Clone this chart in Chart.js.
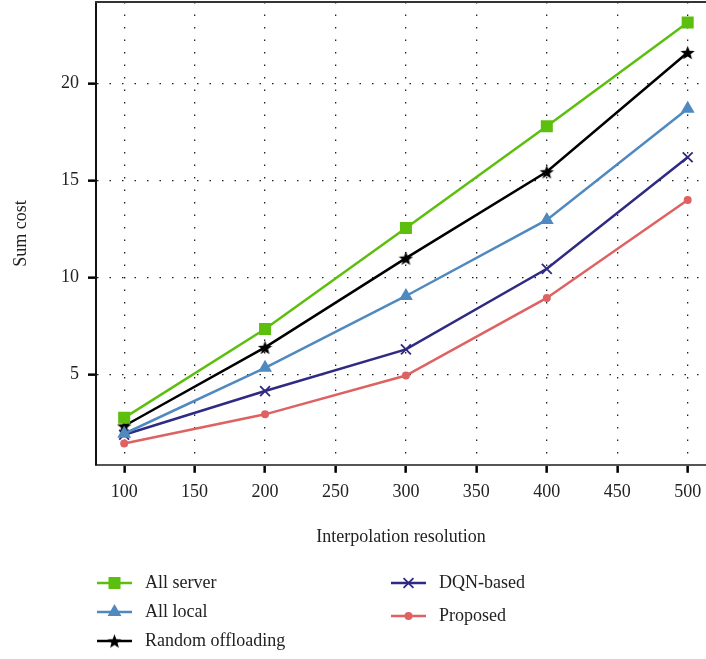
<!DOCTYPE html>
<html>
<head>
<meta charset="utf-8">
<script src="https://cdn.jsdelivr.net/npm/chart.js@4"></script>
<style>
  html, body { margin: 0; padding: 0; background: #fff; }
  #wrap { width: 706px; height: 659px; position: relative; }
</style>
</head>
<body>
<div id="wrap"><canvas id="costChart"></canvas></div>
<script>
// x axis values
const resolutions = [100, 200, 300, 400, 500];
const xTicks = [100, 150, 200, 250, 300, 350, 400, 450, 500];
const yTicks = [5, 10, 15, 20];

// series values
const allServer = [2.77, 7.35, 12.55, 17.8, 23.14];
const allLocal = [1.95, 5.35, 9.05, 12.97, 18.7];
const randomOffloading = [2.35, 6.4, 11.0, 15.45, 21.6];
const dqnBased = [1.9, 4.15, 6.3, 10.45, 16.2];
const proposed = [1.45, 2.95, 4.95, 8.95, 14.0];

const FONT = "'Liberation Serif', 'DejaVu Serif', serif";

// filled five-point star used as marker for random offloading
function makeStar(size, color) {
    const c = document.createElement('canvas');
    c.width = size; c.height = size;
    const g = c.getContext('2d');
    const cx = size / 2, cy = size / 2 + 0.8;
    const outer = size / 2, inner = outer * 0.42;
    g.beginPath();
    for (let i = 0; i < 10; i++) {
        const r = i % 2 === 0 ? outer : inner;
        const a = -Math.PI / 2 + i * Math.PI / 5;
        g.lineTo(cx + r * Math.cos(a), cy + r * Math.sin(a));
    }
    g.closePath();
    g.fillStyle = color;
    g.fill();
    return c;
}
const starImg = makeStar(15, '#000');

const pts = (arr) => arr.map((v, i) => ({ x: resolutions[i], y: v }));

const datasets = [
    { label: 'All server', data: pts(allServer), borderColor: '#5cbf0e', backgroundColor: '#5cbf0e',
      pointStyle: 'rect', pointRadius: 8.5, borderWidth: 2.5, pointBorderWidth: 0 },
    { label: 'All local', data: pts(allLocal), borderColor: '#4f89c0', backgroundColor: '#4f89c0',
      pointStyle: 'triangle', pointRadius: 8, borderWidth: 2.5, pointBorderWidth: 0 },
    { label: 'Random offloading', data: pts(randomOffloading), borderColor: '#000', backgroundColor: '#000',
      pointStyle: starImg, pointRadius: 7, borderWidth: 2.5 },
    { label: 'DQN-based', data: pts(dqnBased), borderColor: '#2f2a82', backgroundColor: '#2f2a82',
      pointStyle: 'crossRot', pointRadius: 7, borderWidth: 2.5, pointBorderWidth: 1.8 },
    { label: 'Proposed', data: pts(proposed), borderColor: '#de6262', backgroundColor: '#de6262',
      pointStyle: 'circle', pointRadius: 4, borderWidth: 2.5, pointBorderWidth: 0 }
];

// legend slots: [column x, row y] for each dataset
const legendSlots = [[97, 583], [97, 612], [97, 641], [391, 583], [391, 616]];

const extras = {
    id: 'extras',
    afterDraw(chart) {
        const { ctx, chartArea } = chart;
        ctx.save();
        // top border of plot
        ctx.strokeStyle = '#333';
        ctx.lineWidth = 2;
        ctx.beginPath();
        ctx.moveTo(chartArea.left - 1, chartArea.top);
        ctx.lineTo(chartArea.right, chartArea.top);
        ctx.stroke();

        // legend in two columns
        ctx.font = '18px ' + FONT;
        ctx.textBaseline = 'middle';
        chart.data.datasets.forEach((ds, i) => {
            const [lx, ly] = legendSlots[i];
            ctx.strokeStyle = ds.borderColor;
            ctx.fillStyle = ds.backgroundColor;
            ctx.lineWidth = 2.5;
            ctx.beginPath();
            ctx.moveTo(lx, ly);
            ctx.lineTo(lx + 35, ly);
            ctx.stroke();
            ctx.lineWidth = ds.pointBorderWidth ?? 1;
            Chart.helpers.drawPoint(ctx, {
                pointStyle: ds.pointStyle, radius: ds.pointRadius, rotation: 0,
                borderWidth: ds.pointBorderWidth ?? 1
            }, lx + 17.5, ly);
            ctx.fillStyle = '#222';
            ctx.fillText(ds.label, lx + 48, ly);
        });
        ctx.restore();
    }
};

const gridBase = {
    color: '#222', lineWidth: 1.3, drawTicks: true, tickLength: 8,
    tickColor: '#000', tickWidth: 2.5, tickBorderDash: []
};

new Chart(document.getElementById('costChart'), {
    type: 'line',
    data: { datasets },
    plugins: [extras],
    options: {
        responsive: true,
        maintainAspectRatio: false,
        animation: false,
        layout: { autoPadding: false, padding: { top: 2, right: 0, bottom: 111, left: 10 } },
        plugins: { legend: { display: false }, tooltip: { enabled: false } },
        scales: {
            x: {
                type: 'linear',
                min: 80, max: 513,
                afterBuildTicks: (s) => { s.ticks = xTicks.map(v => ({ value: v })); },
                afterFit: (s) => { s.paddingRight = 0; },
                grid: { ...gridBase },
                border: { color: '#555', width: 2, dash: [1.5, 11] },
                ticks: { color: '#222', font: { family: FONT, size: 18 }, padding: 9 },
                title: { display: true, text: 'Interpolation resolution', color: '#222',
                         font: { family: FONT, size: 18 }, padding: { top: 14, bottom: 0 } }
            },
            y: {
                min: 0.35, max: 24.2,
                afterBuildTicks: (s) => { s.ticks = yTicks.map(v => ({ value: v })); },
                afterFit: (s) => { s.width = 86; s.paddingTop = 0; s.paddingBottom = 0; },
                grid: { ...gridBase },
                border: { color: '#111', width: 2, dash: [1.5, 11] },
                ticks: { color: '#222', font: { family: FONT, size: 18 }, padding: 9 },
                title: { display: true, text: 'Sum cost', color: '#222',
                         font: { family: FONT, size: 18 }, padding: { top: 0, bottom: 0 } }
            }
        }
    }
});
</script>
</body>
</html>
